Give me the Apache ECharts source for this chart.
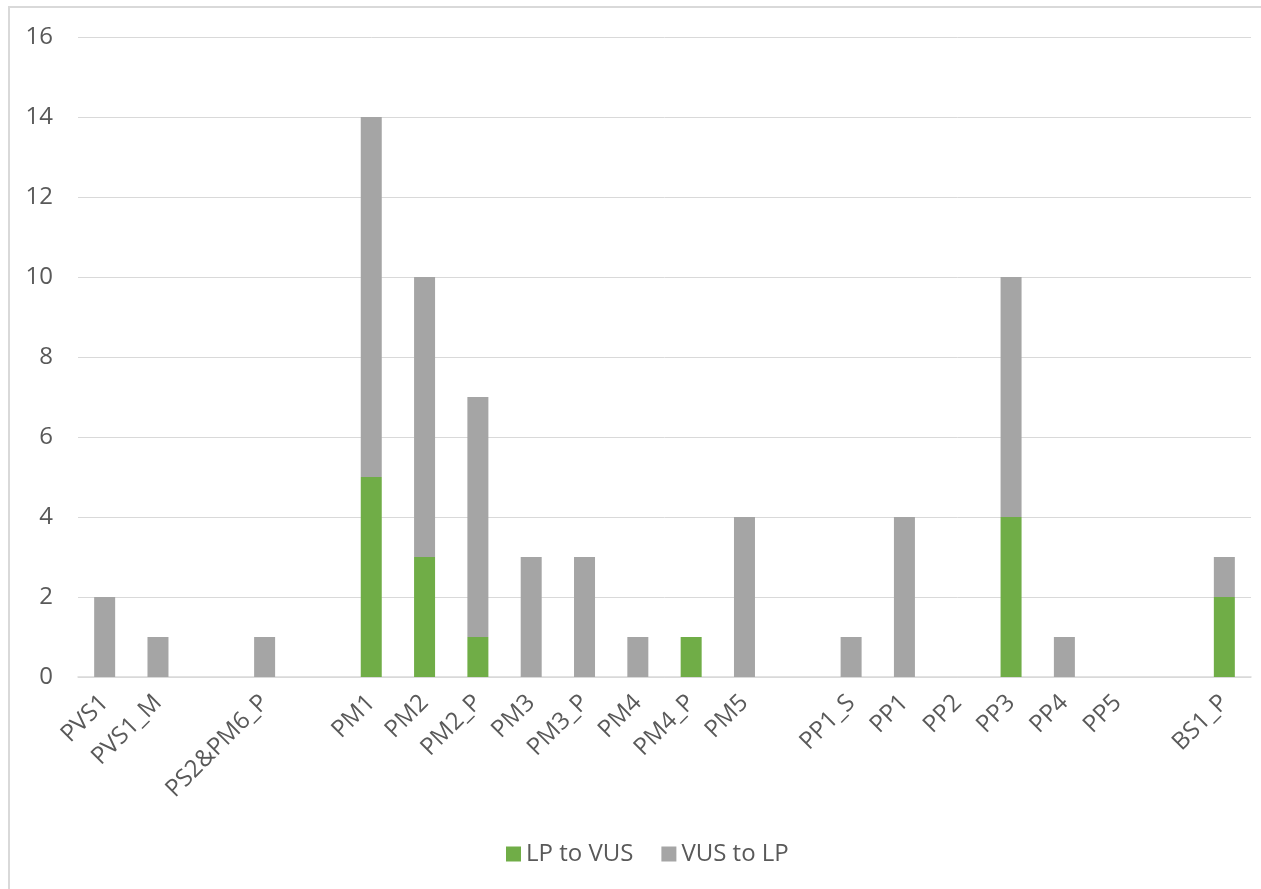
<!DOCTYPE html>
<html>
<head>
<meta charset="utf-8">
<script src="https://cdn.jsdelivr.net/npm/echarts@6/dist/echarts.min.js"></script>
<style>
  html, body { margin: 0; padding: 0; background: #fff; }
  #frame {
    position: absolute; left: 8px; top: 6px; width: 1300px; height: 900px;
    border-left: 2px solid #d9d9d9; border-top: 2px solid #d9d9d9;
    box-sizing: border-box;
  }
  #chart { position: absolute; left: 0; top: 0; width: 1261px; height: 889px; }
</style>
</head>
<body>
<div id="frame"></div>
<div id="chart"></div>
<script>
// Variant categories; empty strings are spacer slots between groups
const categories = ['PVS1', 'PVS1_M', '', 'PS2&PM6_P', '', 'PM1', 'PM2', 'PM2_P', 'PM3', 'PM3_P',
  'PM4', 'PM4_P', 'PM5', '', 'PP1_S', 'PP1', 'PP2', 'PP3', 'PP4', 'PP5', '', 'BS1_P'];
const lpToVus = [0, 0, 0, 0, 0, 5, 3, 1, 0, 0, 0, 1, 0, 0, 0, 0, 0, 4, 0, 0, 0, 2];
const vusToLp = [2, 1, 0, 1, 0, 9, 7, 6, 3, 3, 1, 0, 4, 0, 1, 4, 0, 6, 1, 0, 0, 1];
const yTicks = { min: 0, max: 16, interval: 2 };

const textColor = '#595959';
const fontFamily = '"Open Sans", "Noto Sans", sans-serif';

const chart = echarts.init(document.getElementById('chart'));
chart.setOption({
  animation: false,
  textStyle: { fontFamily: fontFamily },
  grid: { left: 78, right: 10, top: 37, bottom: 212, containLabel: false },
  legend: {
    bottom: 18,
    left: 501,
    itemWidth: 15,
    itemHeight: 15,
    itemGap: 28,
    icon: 'rect',
    textStyle: { color: textColor, fontSize: 24, fontFamily: fontFamily },
    data: ['LP to VUS', 'VUS to LP']
  },
  xAxis: {
    type: 'category',
    data: categories,
    axisLine: { show: true, lineStyle: { color: '#d9d9d9', width: 1.5 } },
    axisTick: { show: false },
    axisLabel: {
      interval: 0,
      rotate: 45,
      margin: 22,
      color: textColor,
      fontSize: 24,
      fontFamily: fontFamily
    }
  },
  yAxis: {
    type: 'value',
    min: yTicks.min,
    max: yTicks.max,
    interval: yTicks.interval,
    axisLine: { show: false },
    axisTick: { show: false },
    splitLine: { lineStyle: { color: '#d9d9d9', width: 1 } },
    axisLabel: { color: textColor, fontSize: 24, margin: 25, fontFamily: fontFamily }
  },
  series: [
    {
      name: 'LP to VUS',
      type: 'bar',
      stack: 'total',
      barWidth: 21,
      itemStyle: { color: '#70ad47' },
      data: lpToVus
    },
    {
      name: 'VUS to LP',
      type: 'bar',
      stack: 'total',
      barWidth: 21,
      itemStyle: { color: '#a5a5a5' },
      data: vusToLp
    }
  ]
});
</script>
</body>
</html>
